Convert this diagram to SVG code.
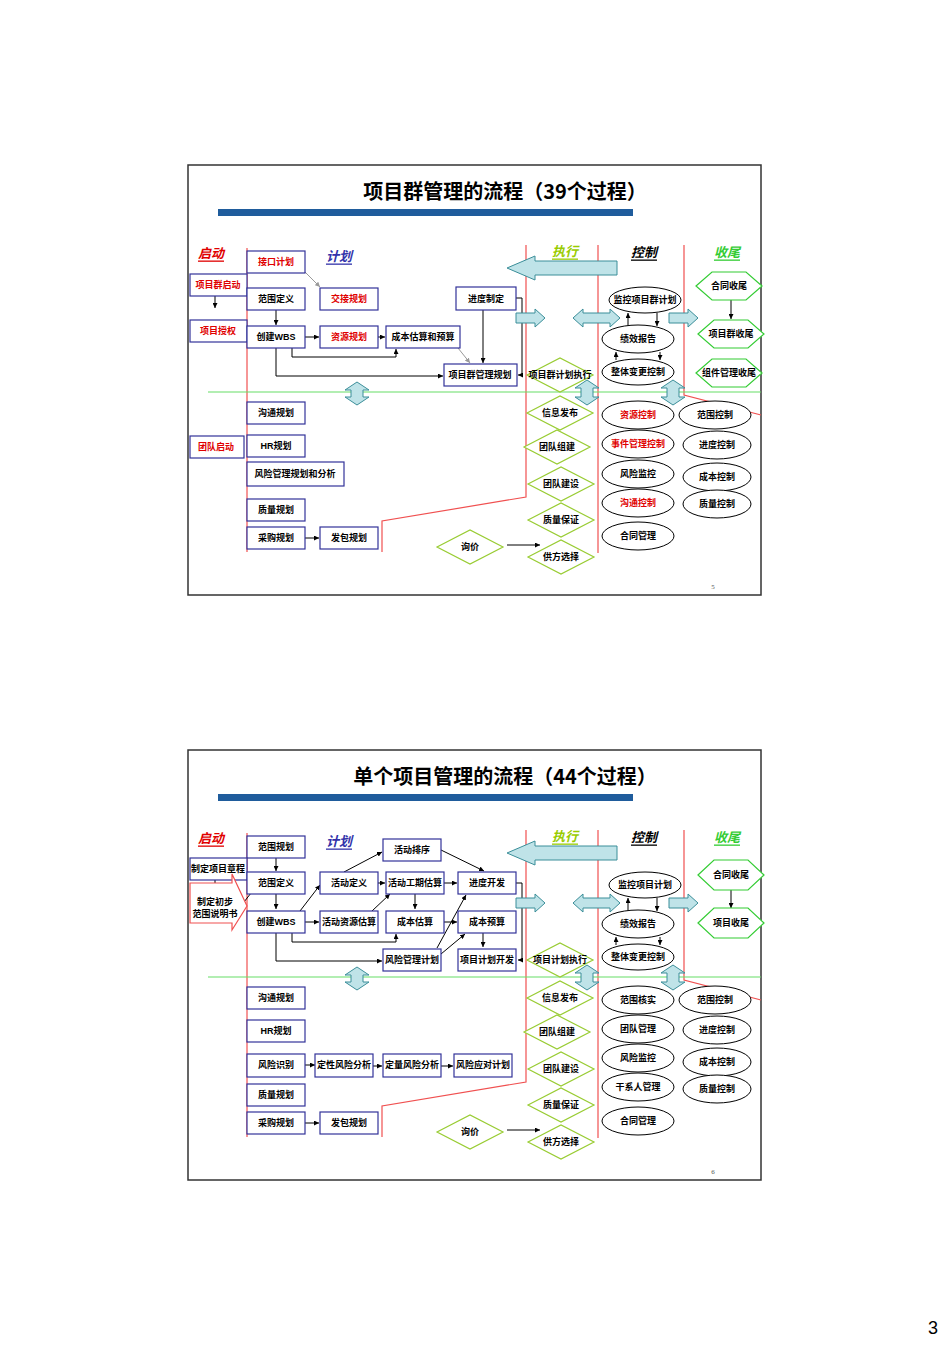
<svg xmlns="http://www.w3.org/2000/svg" width="950" height="1345" viewBox="0 0 950 1345">
<style>
text{font-family:"Liberation Sans","Noto Sans CJK SC",sans-serif;font-size:9px;font-weight:bold;text-anchor:middle;dominant-baseline:central;fill:#000}
.r{fill:#e00000}
.b{fill:#fff;stroke:#333399;stroke-width:1.2}
.e{fill:#fff;stroke:#000;stroke-width:1}
.d{fill:#fff;stroke:#99cc33;stroke-width:1.2}
.h{fill:#fff;stroke:#33cc33;stroke-width:1.2}
.t{fill:#bfe3e8;stroke:#3b8e99;stroke-width:1}
.ln{fill:none;stroke:#000;stroke-width:1}
.g{fill:none;stroke:#999;stroke-width:1}
.red{fill:none;stroke:#f05050;stroke-width:1.2}
.hd{font-size:13px;font-style:italic;text-decoration:underline}
.ttl{font-size:20px;font-family:"Noto Sans CJK SC","Liberation Sans",sans-serif}
</style>
<defs>
<marker id="a" viewBox="0 0 10 10" refX="10" refY="5" markerWidth="5" markerHeight="5" orient="auto"><path d="M0,0L10,5L0,10z" fill="#000"/></marker>
<marker id="ag" viewBox="0 0 10 10" refX="10" refY="5" markerWidth="5" markerHeight="5" orient="auto"><path d="M0,0L10,5L0,10z" fill="#999"/></marker>
</defs>
<rect width="950" height="1345" fill="#fff"/>

<!-- ===== Slide 1 ===== -->
<g id="slide1">
<rect x="188" y="165" width="573" height="430" fill="#fff" stroke="#333" stroke-width="1.5"/>
<text class="ttl" x="505" y="190">项目群管理的流程（39个过程）</text>
<rect x="218" y="209" width="415" height="7" fill="#1f5c9c"/>
<text class="hd r" x="211" y="253">启动</text>
<text class="hd" x="339" y="256" style="fill:#3333aa">计划</text>
<text class="hd" x="565" y="251" style="fill:#99cc00">执行</text>
<text class="hd" x="644" y="252">控制</text>
<text class="hd" x="727" y="252" style="fill:#33cc33">收尾</text>
<g id="s1-lanes">
<line class="red" x1="247" y1="248" x2="247" y2="552"/>
<polyline class="red" points="526,245 526,497 382,521 382,552"/>
<line class="red" x1="598" y1="245" x2="598" y2="553"/>
<polyline class="red" points="684,245 684,395 761,415"/>
<line x1="208" y1="392" x2="761" y2="392" stroke="#66dd66" stroke-width="1.2"/>
</g>
<g id="s1-connectors">
<line class="ln" x1="215" y1="296" x2="215" y2="308" marker-end="url(#a)"/>
<line class="g" x1="305" y1="272" x2="320" y2="287" marker-end="url(#ag)"/>
<line class="ln" x1="276" y1="310" x2="276" y2="325" marker-end="url(#a)"/>
<line class="ln" x1="305" y1="337" x2="319" y2="337" marker-end="url(#a)"/>
<line class="ln" x1="378" y1="337" x2="385" y2="337" marker-end="url(#a)"/>
<polyline class="ln" points="292,348 292,357 396,357 396,349" marker-end="url(#a)"/>
<polyline class="ln" points="276,348 276,376 443,376" marker-end="url(#a)"/>
<line class="g" x1="458" y1="348" x2="470" y2="363" marker-end="url(#ag)"/>
<line class="ln" x1="483" y1="310" x2="483" y2="363" marker-end="url(#a)"/>
<polyline class="ln" points="516,298 522,298 522,375 518,375" marker-end="url(#a)"/>
<line class="ln" x1="305" y1="538" x2="319" y2="538" marker-end="url(#a)"/>
<line class="ln" x1="507" y1="545" x2="540" y2="545" marker-end="url(#a)"/>
<line class="ln" x1="628" y1="326" x2="628" y2="313" marker-end="url(#a)"/>
<line class="ln" x1="657" y1="313" x2="657" y2="326" marker-end="url(#a)"/>
<line class="ln" x1="616" y1="360" x2="616" y2="352" marker-end="url(#a)"/>
<line class="ln" x1="660" y1="352" x2="660" y2="360" marker-end="url(#a)"/>
<line class="ln" x1="731" y1="300" x2="731" y2="319" marker-end="url(#a)"/>
<polygon class="t" points="507,268 535,256 535,261 617,261 617,275 535,275 535,280"/>
<polygon class="t" points="516,313 535,313 535,309 545,318 535,327 535,323 516,323"/>
<polygon class="t" points="573,318 583,309 583,313 610,313 610,309 620,318 610,327 610,323 583,323 583,327"/>
<polygon class="t" points="669,313 688,313 688,309 698,318 688,327 688,323 669,323"/>
<polygon class="t" points="357,382 369,390 363,390 363,397 369,397 357,405 345,397 351,397 351,390 345,390"/>
<polygon class="t" points="587,380 599,388 593,388 593,397 599,397 587,405 575,397 581,397 581,388 575,388"/>
<polygon class="t" points="673,380 685,388 679,388 679,397 685,397 673,405 661,397 667,397 667,388 661,388"/>
</g>
<g id="s1-n1"><rect class="b" x="247" y="251" width="58" height="22"/><text class="r" x="276" y="262">接口计划</text></g>
<g id="s1-n2"><rect class="b" x="190" y="274" width="57" height="22"/><text class="r" x="218" y="285">项目群启动</text></g>
<g id="s1-n3"><rect class="b" x="190" y="320" width="57" height="22"/><text class="r" x="218" y="331">项目授权</text></g>
<g id="s1-n4"><rect class="b" x="247" y="288" width="58" height="22"/><text x="276" y="299">范围定义</text></g>
<g id="s1-n5"><rect class="b" x="320" y="288" width="58" height="22"/><text class="r" x="349" y="299">交接规划</text></g>
<g id="s1-n6"><rect class="b" x="247" y="326" width="58" height="22"/><text x="276" y="337">创建WBS</text></g>
<g id="s1-n7"><rect class="b" x="320" y="326" width="58" height="22"/><text class="r" x="349" y="337">资源规划</text></g>
<g id="s1-n8"><rect class="b" x="386" y="326" width="74" height="22"/><text x="423" y="337">成本估算和预算</text></g>
<g id="s1-n9"><rect class="b" x="456" y="287" width="60" height="23"/><text x="486" y="299">进度制定</text></g>
<g id="s1-n10"><rect class="b" x="444" y="364" width="73" height="22"/><text x="480" y="375">项目群管理规划</text></g>
<g id="s1-n11"><rect class="b" x="247" y="402" width="58" height="22"/><text x="276" y="413">沟通规划</text></g>
<g id="s1-n12"><rect class="b" x="190" y="436" width="54" height="22"/><text class="r" x="216" y="447">团队启动</text></g>
<g id="s1-n13"><rect class="b" x="247" y="435" width="58" height="22"/><text x="276" y="446">HR规划</text></g>
<g id="s1-n14"><rect class="b" x="247" y="462" width="97" height="24"/><text x="295" y="474">风险管理规划和分析</text></g>
<g id="s1-n15"><rect class="b" x="247" y="499" width="58" height="22"/><text x="276" y="510">质量规划</text></g>
<g id="s1-n16"><rect class="b" x="247" y="527" width="58" height="22"/><text x="276" y="538">采购规划</text></g>
<g id="s1-n17"><rect class="b" x="320" y="527" width="58" height="22"/><text x="349" y="538">发包规划</text></g>
<g id="s1-d1"><polygon class="d" points="527,375 560,358 593,375 560,392"/><text x="560" y="375">项目群计划执行</text></g>
<g id="s1-d2"><polygon class="d" points="527,413 560,396 593,413 560,430"/><text x="560" y="413">信息发布</text></g>
<g id="s1-d3"><polygon class="d" points="524,447 557,430 590,447 557,464"/><text x="557" y="447">团队组建</text></g>
<g id="s1-d4"><polygon class="d" points="528,484 561,467 594,484 561,501"/><text x="561" y="484">团队建设</text></g>
<g id="s1-d5"><polygon class="d" points="528,520 561,503 594,520 561,537"/><text x="561" y="520">质量保证</text></g>
<g id="s1-d6"><polygon class="d" points="437,547 470,530 503,547 470,564"/><text x="470" y="547">询价</text></g>
<g id="s1-d7"><polygon class="d" points="528,557 561,540 594,557 561,574"/><text x="561" y="557">供方选择</text></g>
<g id="s1-e1"><ellipse class="e" cx="645" cy="300" rx="36" ry="13"/><text x="645" y="300">监控项目群计划</text></g>
<g id="s1-e2"><ellipse class="e" cx="638" cy="339" rx="36" ry="14"/><text x="638" y="339">绩效报告</text></g>
<g id="s1-e3"><ellipse class="e" cx="638" cy="372" rx="36" ry="13"/><text x="638" y="372">整体变更控制</text></g>
<g id="s1-e4"><ellipse class="e" cx="638" cy="415" rx="36" ry="14"/><text class="r" x="638" y="415">资源控制</text></g>
<g id="s1-e5"><ellipse class="e" cx="715" cy="415" rx="36" ry="14"/><text x="715" y="415">范围控制</text></g>
<g id="s1-e6"><ellipse class="e" cx="638" cy="444" rx="36" ry="14"/><text class="r" x="638" y="444">事件管理控制</text></g>
<g id="s1-e7"><ellipse class="e" cx="717" cy="445" rx="34" ry="14"/><text x="717" y="445">进度控制</text></g>
<g id="s1-e8"><ellipse class="e" cx="638" cy="474" rx="36" ry="14"/><text x="638" y="474">风险监控</text></g>
<g id="s1-e9"><ellipse class="e" cx="717" cy="477" rx="34" ry="14"/><text x="717" y="477">成本控制</text></g>
<g id="s1-e10"><ellipse class="e" cx="638" cy="503" rx="36" ry="14"/><text class="r" x="638" y="503">沟通控制</text></g>
<g id="s1-e11"><ellipse class="e" cx="717" cy="504" rx="34" ry="14"/><text x="717" y="504">质量控制</text></g>
<g id="s1-e12"><ellipse class="e" cx="638" cy="536" rx="36" ry="14"/><text x="638" y="536">合同管理</text></g>
<g id="s1-h1"><polygon class="h" points="696,286 712,272 746,272 762,286 746,300 712,300"/><text x="729" y="286">合同收尾</text></g>
<g id="s1-h2"><polygon class="h" points="698,334 714,320 748,320 764,334 748,348 714,348"/><text x="731" y="334">项目群收尾</text></g>
<g id="s1-h3"><polygon class="h" points="696,373 712,359 746,359 762,373 746,387 712,387"/><text x="729" y="373">组件管理收尾</text></g>
<text x="713" y="587" style="font-size:7px;font-weight:normal;font-family:'Liberation Serif',serif;fill:#555">5</text>
</g>

<!-- ===== Slide 2 ===== -->
<g id="slide2" transform="translate(0,585)">
<rect x="188" y="165" width="573" height="430" fill="#fff" stroke="#333" stroke-width="1.5"/>
<text class="ttl" x="505" y="190">单个项目管理的流程（44个过程）</text>
<rect x="218" y="209" width="415" height="7" fill="#1f5c9c"/>
<text class="hd r" x="211" y="253">启动</text>
<text class="hd" x="339" y="256" style="fill:#3333aa">计划</text>
<text class="hd" x="565" y="251" style="fill:#99cc00">执行</text>
<text class="hd" x="644" y="252">控制</text>
<text class="hd" x="727" y="252" style="fill:#33cc33">收尾</text>
<g id="s2-lanes">
<line class="red" x1="247" y1="248" x2="247" y2="552"/>
<polyline class="red" points="526,245 526,497 382,521 382,552"/>
<line class="red" x1="598" y1="245" x2="598" y2="553"/>
<polyline class="red" points="684,245 684,395 761,415"/>
<line x1="208" y1="392" x2="761" y2="392" stroke="#66dd66" stroke-width="1.2"/>
</g>
<g id="s2-connectors">
<line class="ln" x1="215" y1="295" x2="215" y2="307" marker-end="url(#a)"/>
<line class="ln" x1="276" y1="273" x2="276" y2="286" marker-end="url(#a)"/>
<line class="ln" x1="244" y1="317" x2="258" y2="299" marker-end="url(#a)"/>
<line class="ln" x1="276" y1="309" x2="276" y2="324" marker-end="url(#a)"/>
<line class="ln" x1="300" y1="326" x2="320" y2="300" marker-end="url(#a)"/>
<line class="ln" x1="305" y1="337" x2="319" y2="337" marker-end="url(#a)"/>
<line class="ln" x1="344" y1="287" x2="382" y2="267" marker-end="url(#a)"/>
<line class="ln" x1="378" y1="298" x2="385" y2="298" marker-end="url(#a)"/>
<line class="ln" x1="372" y1="326" x2="390" y2="309" marker-end="url(#a)"/>
<line class="ln" x1="441" y1="265" x2="484" y2="286" marker-end="url(#a)"/>
<line class="ln" x1="444" y1="298" x2="457" y2="298" marker-end="url(#a)"/>
<line class="ln" x1="415" y1="309" x2="415" y2="324" marker-end="url(#a)"/>
<line class="ln" x1="444" y1="337" x2="457" y2="337" marker-end="url(#a)"/>
<polyline class="ln" points="292,348 292,357 396,357 396,349" marker-end="url(#a)"/>
<polyline class="ln" points="276,348 276,376 382,376" marker-end="url(#a)"/>
<line class="ln" x1="437" y1="363" x2="466" y2="310" marker-end="url(#a)"/>
<line class="ln" x1="441" y1="369" x2="465" y2="349" marker-end="url(#a)"/>
<line class="ln" x1="483" y1="348" x2="483" y2="362" marker-end="url(#a)"/>
<polyline class="ln" points="516,298 522,298 522,375 518,375" marker-end="url(#a)"/>
<line class="ln" x1="305" y1="480" x2="315" y2="480" marker-end="url(#a)"/>
<line class="ln" x1="373" y1="481" x2="382" y2="481" marker-end="url(#a)"/>
<line class="ln" x1="441" y1="481" x2="453" y2="481" marker-end="url(#a)"/>
<line class="ln" x1="305" y1="538" x2="319" y2="538" marker-end="url(#a)"/>
<line class="ln" x1="507" y1="545" x2="540" y2="545" marker-end="url(#a)"/>
<line class="ln" x1="628" y1="326" x2="628" y2="313" marker-end="url(#a)"/>
<line class="ln" x1="657" y1="313" x2="657" y2="326" marker-end="url(#a)"/>
<line class="ln" x1="616" y1="360" x2="616" y2="352" marker-end="url(#a)"/>
<line class="ln" x1="660" y1="352" x2="660" y2="360" marker-end="url(#a)"/>
<line class="ln" x1="731" y1="304" x2="731" y2="323" marker-end="url(#a)"/>
<polygon class="t" points="507,268 535,256 535,261 617,261 617,275 535,275 535,280"/>
<polygon class="t" points="516,313 535,313 535,309 545,318 535,327 535,323 516,323"/>
<polygon class="t" points="573,318 583,309 583,313 610,313 610,309 620,318 610,327 610,323 583,323 583,327"/>
<polygon class="t" points="669,313 688,313 688,309 698,318 688,327 688,323 669,323"/>
<polygon class="t" points="357,382 369,390 363,390 363,397 369,397 357,405 345,397 351,397 351,390 345,390"/>
<polygon class="t" points="587,380 599,388 593,388 593,397 599,397 587,405 575,397 581,397 581,388 575,388"/>
<polygon class="t" points="673,380 685,388 679,388 679,397 685,397 673,405 661,397 667,397 667,388 661,388"/>
</g>
<g id="s2-n1"><rect class="b" x="247" y="251" width="58" height="22"/><text x="276" y="262">范围规划</text></g>
<g id="s2-n2"><rect class="b" x="190" y="273" width="57" height="22"/><text x="218" y="284">制定项目章程</text></g>
<g id="s2-n3"><polygon points="190,300 232,300 232,291 247,323 232,347 232,340 190,340" fill="#fff" stroke="#f05050" stroke-width="1.2" transform="translate(0,-2)"/><text x="215" y="317">制定初步</text><text x="215" y="329">范围说明书</text></g>
<g id="s2-n4"><rect class="b" x="247" y="287" width="58" height="22"/><text x="276" y="298">范围定义</text></g>
<g id="s2-n5"><rect class="b" x="320" y="287" width="58" height="22"/><text x="349" y="298">活动定义</text></g>
<g id="s2-n6"><rect class="b" x="383" y="254" width="58" height="22"/><text x="412" y="265">活动排序</text></g>
<g id="s2-n7"><rect class="b" x="386" y="287" width="58" height="22"/><text x="415" y="298">活动工期估算</text></g>
<g id="s2-n8"><rect class="b" x="458" y="287" width="58" height="22"/><text x="487" y="298">进度开发</text></g>
<g id="s2-n9"><rect class="b" x="247" y="326" width="58" height="22"/><text x="276" y="337">创建WBS</text></g>
<g id="s2-n10"><rect class="b" x="320" y="326" width="58" height="22"/><text x="349" y="337">活动资源估算</text></g>
<g id="s2-n11"><rect class="b" x="386" y="326" width="58" height="22"/><text x="415" y="337">成本估算</text></g>
<g id="s2-n12"><rect class="b" x="458" y="326" width="58" height="22"/><text x="487" y="337">成本预算</text></g>
<g id="s2-n13"><rect class="b" x="383" y="364" width="58" height="22"/><text x="412" y="375">风险管理计划</text></g>
<g id="s2-n14"><rect class="b" x="458" y="364" width="58" height="22"/><text x="487" y="375">项目计划开发</text></g>
<g id="s2-n15"><rect class="b" x="247" y="402" width="58" height="22"/><text x="276" y="413">沟通规划</text></g>
<g id="s2-n16"><rect class="b" x="247" y="435" width="58" height="22"/><text x="276" y="446">HR规划</text></g>
<g id="s2-n17"><rect class="b" x="247" y="469" width="58" height="23"/><text x="276" y="480">风险识别</text></g>
<g id="s2-n18"><rect class="b" x="315" y="469" width="58" height="23"/><text x="344" y="480">定性风险分析</text></g>
<g id="s2-n19"><rect class="b" x="383" y="469" width="58" height="23"/><text x="412" y="480">定量风险分析</text></g>
<g id="s2-n20"><rect class="b" x="454" y="469" width="58" height="23"/><text x="483" y="480">风险应对计划</text></g>
<g id="s2-n21"><rect class="b" x="247" y="499" width="58" height="22"/><text x="276" y="510">质量规划</text></g>
<g id="s2-n22"><rect class="b" x="247" y="527" width="58" height="22"/><text x="276" y="538">采购规划</text></g>
<g id="s2-n23"><rect class="b" x="320" y="527" width="58" height="22"/><text x="349" y="538">发包规划</text></g>
<g id="s2-d1"><polygon class="d" points="527,375 560,358 593,375 560,392"/><text x="560" y="375">项目计划执行</text></g>
<g id="s2-d2"><polygon class="d" points="527,413 560,396 593,413 560,430"/><text x="560" y="413">信息发布</text></g>
<g id="s2-d3"><polygon class="d" points="524,447 557,430 590,447 557,464"/><text x="557" y="447">团队组建</text></g>
<g id="s2-d4"><polygon class="d" points="528,484 561,467 594,484 561,501"/><text x="561" y="484">团队建设</text></g>
<g id="s2-d5"><polygon class="d" points="528,520 561,503 594,520 561,537"/><text x="561" y="520">质量保证</text></g>
<g id="s2-d6"><polygon class="d" points="437,547 470,530 503,547 470,564"/><text x="470" y="547">询价</text></g>
<g id="s2-d7"><polygon class="d" points="528,557 561,540 594,557 561,574"/><text x="561" y="557">供方选择</text></g>
<g id="s2-e1"><ellipse class="e" cx="645" cy="300" rx="36" ry="13"/><text x="645" y="300">监控项目计划</text></g>
<g id="s2-e2"><ellipse class="e" cx="638" cy="339" rx="36" ry="14"/><text x="638" y="339">绩效报告</text></g>
<g id="s2-e3"><ellipse class="e" cx="638" cy="372" rx="36" ry="13"/><text x="638" y="372">整体变更控制</text></g>
<g id="s2-e4"><ellipse class="e" cx="638" cy="415" rx="36" ry="14"/><text x="638" y="415">范围核实</text></g>
<g id="s2-e5"><ellipse class="e" cx="715" cy="415" rx="36" ry="14"/><text x="715" y="415">范围控制</text></g>
<g id="s2-e6"><ellipse class="e" cx="638" cy="444" rx="36" ry="14"/><text x="638" y="444">团队管理</text></g>
<g id="s2-e7"><ellipse class="e" cx="717" cy="445" rx="34" ry="14"/><text x="717" y="445">进度控制</text></g>
<g id="s2-e8"><ellipse class="e" cx="638" cy="473" rx="36" ry="14"/><text x="638" y="473">风险监控</text></g>
<g id="s2-e9"><ellipse class="e" cx="717" cy="477" rx="34" ry="14"/><text x="717" y="477">成本控制</text></g>
<g id="s2-e10"><ellipse class="e" cx="638" cy="502" rx="36" ry="14"/><text x="638" y="502">干系人管理</text></g>
<g id="s2-e11"><ellipse class="e" cx="717" cy="504" rx="34" ry="14"/><text x="717" y="504">质量控制</text></g>
<g id="s2-e12"><ellipse class="e" cx="638" cy="536" rx="36" ry="14"/><text x="638" y="536">合同管理</text></g>
<g id="s2-h1"><polygon class="h" points="698,305 714,290 748,290 764,305 748,320 714,320" transform="translate(0,-15)"/><text x="731" y="290">合同收尾</text></g>
<g id="s2-h2"><polygon class="h" points="698,353 714,338 748,338 764,353 748,368 714,368" transform="translate(0,-15)"/><text x="731" y="338">项目收尾</text></g>
<text x="713" y="587" style="font-size:7px;font-weight:normal;font-family:'Liberation Serif',serif;fill:#555">6</text>
</g>
<text x="933" y="1328" style="font-size:18px;font-weight:normal">3</text>
</svg>
